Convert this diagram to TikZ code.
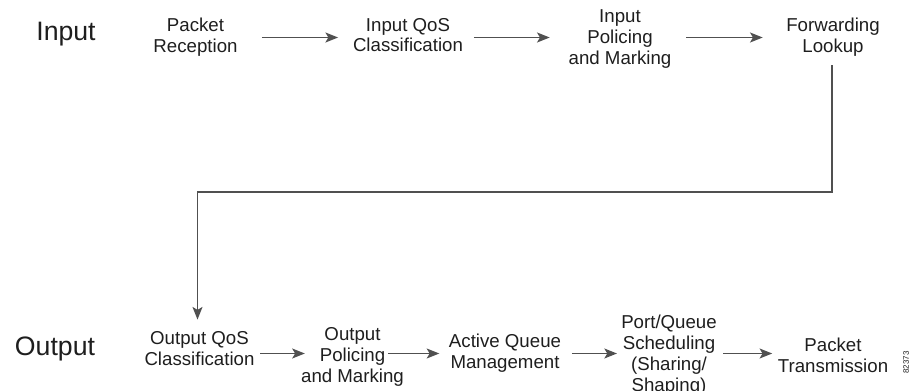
\documentclass[tikz,border=0pt]{standalone}
\usepackage{fontspec}
\setmainfont{Liberation Sans}
\usetikzlibrary{arrows.meta}
\definecolor{txt}{HTML}{1E1E1E}
\definecolor{ln}{HTML}{505050}
\begin{document}
\begin{tikzpicture}[x=0.75pt,y=-0.75pt,
  stepbox/.style={inner sep=0pt,align=center,text=txt,font=\fontsize{14}{15.6}\selectfont},
  stepboxb/.style={stepbox,font=\fontsize{14}{15.8}\selectfont},
  biglabel/.style={inner sep=0pt,text=txt,font=\fontsize{20}{24}\selectfont},
  arr/.style={draw=ln,line width=1.1pt,-{Stealth[length=9.5pt,width=7.5pt,inset=2.2pt]}}]
\useasboundingbox (0,0) rectangle (914,391);
% rows
\coordinate (rowA) at (0,37.5);
\coordinate (rowB) at (0,353.5);
\coordinate (turn) at (0,192);
% labels
\node[biglabel] (lin) at (66,34) {Input};
\node[biglabel] (lout) at (55,348.5) {Output};
% top row
\node[stepbox] (pr) at (195.5,37) {Packet\\Reception};
\node[stepbox] (iqc) at (408,35) {Input QoS\\Classification};
\node[stepbox] (ipm) at (620,39) {Input\\Policing\\and Marking};
\node[stepbox] (fl) at (833,37) {Forwarding\\Lookup};
% bottom row
\node[stepboxb] (oqc) at (199.5,349) {Output QoS\\Classification};
\node[stepboxb] (opm) at (352.5,357) {Output\\Policing\\and Marking};
\node[stepboxb] (aqm) at (505,353) {Active Queue\\Management};
\node[stepboxb] (pqs) at (669,355) {Port/Queue\\Scheduling\\(Sharing/\\Shaping)};
\node[stepboxb] (pt) at (833,355) {Packet\\Transmission};
\node[inner sep=0pt,rotate=90,anchor=east,text=txt,font=\fontsize{6}{7}\selectfont] (fig) at (906,351) {82373};
% top arrows
\draw[arr,shorten <=18pt,shorten >=11pt] (pr.east |- rowA) -- (iqc.west |- rowA);
\draw[arr,shorten <=8pt,shorten >=14pt] (iqc.east |- rowA) -- (ipm.west |- rowA);
\draw[arr,shorten <=11pt,shorten >=17.5pt] (ipm.east |- rowA) -- (fl.west |- rowA);
% connector down
\draw[arr,shorten <=6.5pt,shorten >=9pt] ([xshift=-0.75pt]fl.south) -- ([xshift=-0.75pt]fl.south |- turn) -| ([xshift=-1.5pt]oqc.north);
% bottom arrows
\draw[arr,shorten <=4pt,shorten >=-3pt] (oqc.east |- rowB) -- (opm.west |- rowB);
\draw[arr,shorten <=-12pt,shorten >=7pt] (opm.east |- rowB) -- (aqm.west |- rowB);
\draw[arr,shorten <=8pt,shorten >=3pt] (aqm.east |- rowB) -- (pqs.west |- rowB);
\draw[arr,shorten <=4.5pt,shorten >=4pt] (pqs.east |- rowB) -- (pt.west |- rowB);
\end{tikzpicture}
\end{document}
